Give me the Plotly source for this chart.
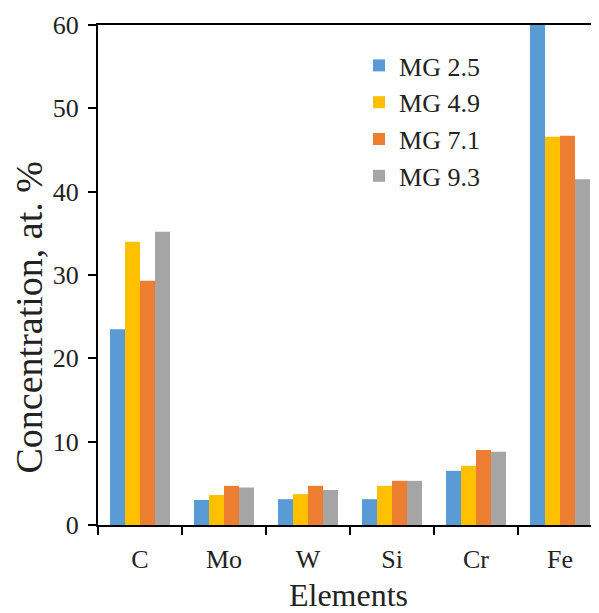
import plotly.graph_objects as go

elements = ["C", "Mo", "W", "Si", "Cr", "Fe"]
series_names = ["MG 2.5", "MG 4.9", "MG 7.1", "MG 9.3"]
mg_2_5 = [23.5, 3.0, 3.1, 3.1, 6.5, 60.0]
mg_4_9 = [34.0, 3.6, 3.7, 4.7, 7.1, 46.6]
mg_7_1 = [29.3, 4.7, 4.7, 5.3, 9.0, 46.7]
mg_9_3 = [35.2, 4.5, 4.2, 5.3, 8.8, 41.5]
y_ticks = [0, 10, 20, 30, 40, 50, 60]

colors = ["#5B9BD5", "#FFC000", "#ED7D31", "#A5A5A5"]
values = [mg_2_5, mg_4_9, mg_7_1, mg_9_3]

fig = go.Figure()
for name, vals, c in zip(series_names, values, colors):
    fig.add_trace(go.Bar(x=elements, y=vals, name=name, marker_color=c,
                         marker_line_width=0))

FONT = "Liberation Serif, Times New Roman, serif"
TXT = "#222222"
# page body has an 8px margin, so the figure is sized to fit the window
fig.update_layout(
    width=591, height=605,
    margin=dict(l=90, r=0, t=17, b=88, autoexpand=False),
    paper_bgcolor="white", plot_bgcolor="white",
    barmode="group", bargap=0.286, bargroupgap=0,
    font=dict(family=FONT, color=TXT),
    showlegend=True,
    legend=dict(x=0.521, y=0.966, xanchor="left", yanchor="top",
                font=dict(size=26, family=FONT, color=TXT),
                bgcolor="rgba(0,0,0,0)", tracegroupgap=0,
                itemwidth=30),
    xaxis=dict(
        range=[-0.5, 5.464], showline=True, linecolor="black", linewidth=2,
        mirror=True, ticks="outside", tickson="boundaries", ticklen=8,
        tickwidth=2, tickcolor="black", showgrid=False, automargin=False,
        tickfont=dict(size=26, family=FONT, color=TXT),
        ticklabelstandoff=10,
        title=dict(text="Elements", font=dict(size=32, family=FONT, color=TXT),
                   standoff=14),
    ),
    yaxis=dict(
        range=[0, 60], tickvals=y_ticks, showline=True, linecolor="black",
        linewidth=2, ticks="outside", ticklen=8, tickwidth=2, tickcolor="black",
        showgrid=False, zeroline=False, automargin=False,
        tickfont=dict(size=26, family=FONT, color=TXT),
        ticklabelstandoff=4,
    ),
    annotations=[dict(
        text="Concentration, at. %", textangle=-90,
        xref="paper", yref="paper", x=0, y=0.415, xshift=-70,
        xanchor="center", yanchor="middle", showarrow=False,
        font=dict(size=38, family=FONT, color=TXT),
    )],
)

fig.write_html("out.html")
